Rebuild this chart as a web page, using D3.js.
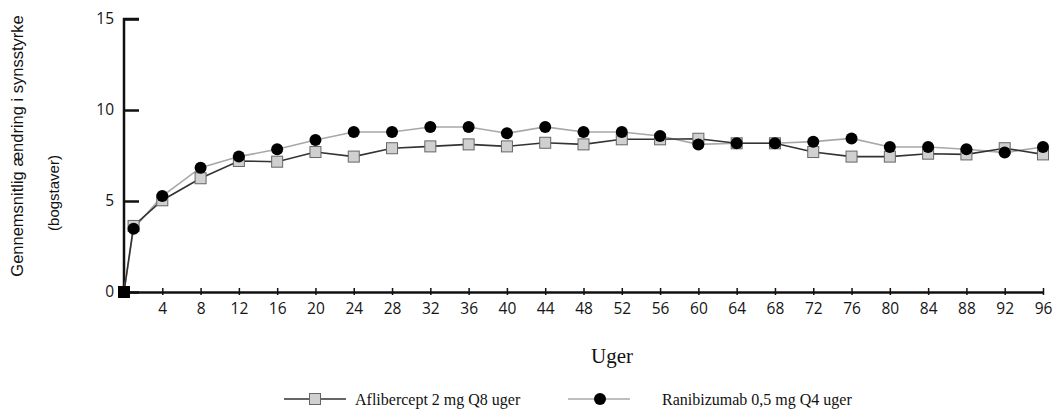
<!DOCTYPE html>
<html>
<head>
<meta charset="utf-8">
<script src="https://cdn.jsdelivr.net/npm/d3@7"></script>
<style>
  body { margin: 0; background: #fff; }
  svg { display: block; }
</style>
</head>
<body>
<svg id="chart" width="1054" height="412"></svg>
<script>
const weeks = [0, 1, 4, 8, 12, 16, 20, 24, 28, 32, 36, 40, 44, 48, 52, 56, 60, 64, 68, 72, 76, 80, 84, 88, 92, 96]
const aflibercept = [0, 3.63, 5.04, 6.25, 7.2, 7.16, 7.69, 7.44, 7.9, 8.0, 8.11, 8.0, 8.2, 8.11, 8.39, 8.39, 8.42, 8.17, 8.17, 7.69, 7.44, 7.44, 7.6, 7.56, 7.9, 7.56]
const ranibizumab = [0, 3.48, 5.27, 6.83, 7.44, 7.84, 8.35, 8.79, 8.79, 9.07, 9.07, 8.72, 9.07, 8.79, 8.79, 8.57, 8.11, 8.17, 8.17, 8.26, 8.44, 7.97, 7.97, 7.84, 7.66, 7.97]
const xTicks = d3.range(4, 97, 4)
const yTicks = [0, 5, 10, 15]
const seriesNames = ['Aflibercept 2 mg Q8 uger', 'Ranibizumab 0,5 mg Q4 uger']

const svg = d3.select('#chart')

const x = d3.scaleLinear().domain([0, 96]).range([124, 1043])
const y = d3.scaleLinear().domain([0, 15]).range([292, 19])

// y axis
const yAxis = svg.append('g')
  .attr('transform', 'translate(124,0)')
  .call(d3.axisRight(y).tickValues(yTicks).tickSize(15).tickFormat(d3.format('d')))
yAxis.select('.domain').attr('d', 'M15,19H0V292').attr('stroke', '#111').attr('stroke-width', 2.5).attr('fill', 'none')
yAxis.selectAll('.tick line').attr('stroke', '#111').attr('stroke-width', 2.5)
yAxis.selectAll('.tick text')
  .attr('x', -10)
  .attr('text-anchor', 'end')
  .attr('font-family', 'Open Sans')
  .attr('font-size', 15.5)
  .attr('fill', '#151515')

// x axis
const xAxis = svg.append('g')
  .attr('transform', 'translate(0,292)')
  .call(d3.axisBottom(x).tickValues(xTicks).tickSize(3).tickSizeOuter(0))
xAxis.select('.domain').attr('stroke', '#111').attr('stroke-width', 2.5)
xAxis.selectAll('.tick line').attr('y1', -4).attr('y2', 3).attr('stroke', '#111').attr('stroke-width', 1.5)
xAxis.selectAll('.tick text')
  .attr('y', 11)
  .attr('font-family', 'Open Sans')
  .attr('font-size', 15.5)
  .attr('fill', '#151515')

const line = d3.line().x((d, i) => x(weeks[i])).y(d => y(d))

svg.append('path')
  .datum(ranibizumab)
  .attr('d', line)
  .attr('fill', 'none')
  .attr('stroke', '#a8a8a8')
  .attr('stroke-width', 1.6)

svg.append('path')
  .datum(aflibercept)
  .attr('d', line)
  .attr('fill', 'none')
  .attr('stroke', '#333')
  .attr('stroke-width', 1.6)

const sq = 11
svg.selectAll('.sq')
  .data(aflibercept)
  .enter()
  .append('rect')
  .attr('class', 'sq')
  .attr('x', (d, i) => x(weeks[i]) - sq / 2)
  .attr('y', d => y(d) - sq / 2)
  .attr('width', sq)
  .attr('height', sq)
  .attr('fill', d => d === 0 ? '#000' : '#d0d0d0')
  .attr('stroke', d => d === 0 ? '#000' : '#666')
  .attr('stroke-width', 1)

svg.selectAll('.dot')
  .data(ranibizumab)
  .enter()
  .append('circle')
  .attr('class', 'dot')
  .attr('cx', (d, i) => x(weeks[i]))
  .attr('cy', d => y(d))
  .attr('r', 6)
  .attr('fill', '#000')

// y axis title
svg.append('text')
  .attr('transform', 'translate(23,146) rotate(-90)')
  .attr('text-anchor', 'middle')
  .attr('font-family', 'Liberation Sans')
  .attr('font-size', 16.5)
  .attr('fill', '#111')
  .text('Gennemsnitlig ændring i synsstyrke')
svg.append('text')
  .attr('transform', 'translate(59,193) rotate(-90)')
  .attr('text-anchor', 'middle')
  .attr('font-family', 'Liberation Sans')
  .attr('font-size', 15)
  .attr('fill', '#111')
  .text('(bogstaver)')

// x axis title
svg.append('text')
  .attr('x', 612)
  .attr('y', 363)
  .attr('text-anchor', 'middle')
  .attr('font-family', 'Liberation Serif')
  .attr('font-size', 21)
  .attr('fill', '#111')
  .text('Uger')

// legend
const legendY = 399
const leg1 = svg.append('g')
leg1.append('line').attr('x1', 284).attr('x2', 346).attr('y1', legendY).attr('y2', legendY)
  .attr('stroke', '#333').attr('stroke-width', 1.6)
leg1.append('rect').attr('x', 315 - sq / 2).attr('y', legendY - sq / 2).attr('width', sq).attr('height', sq)
  .attr('fill', '#d0d0d0').attr('stroke', '#666')
leg1.append('text').attr('x', 355).attr('y', legendY + 6)
  .attr('font-family', 'Liberation Serif').attr('font-size', 16).attr('fill', '#111')
  .text(seriesNames[0])

const leg2 = svg.append('g')
leg2.append('line').attr('x1', 568).attr('x2', 630).attr('y1', legendY).attr('y2', legendY)
  .attr('stroke', '#a8a8a8').attr('stroke-width', 1.6)
leg2.append('circle').attr('cx', 600).attr('cy', legendY).attr('r', 6).attr('fill', '#000')
leg2.append('text').attr('x', 662).attr('y', legendY + 6)
  .attr('font-family', 'Liberation Serif').attr('font-size', 16).attr('fill', '#111')
  .text(seriesNames[1])
</script>
</body>
</html>
